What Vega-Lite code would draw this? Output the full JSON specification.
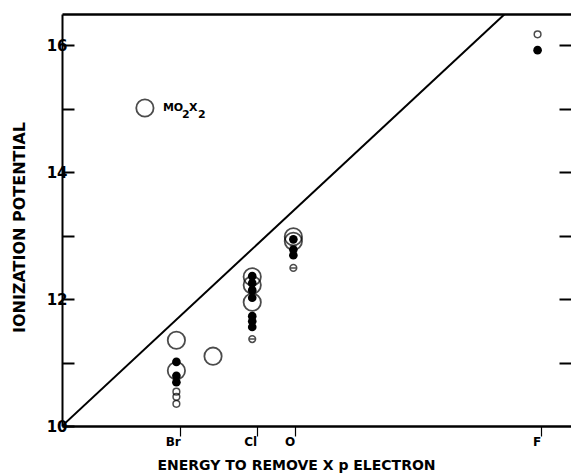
{
  "$schema": "https://vega.github.io/schema/vega-lite/v6.json",
  "width": 509,
  "height": 412,
  "autosize": {"type": "none"},
  "padding": {"left": 62, "top": 14, "right": 0, "bottom": 49},
  "background": "white",
  "config": {
    "view": {"stroke": null},
    "axis": {"domainColor": "black", "tickColor": "black", "labelColor": "black", "titleColor": "black", "grid": false, "labelFlush": false, "labelOverlap": false}
  },
  "datasets": {
    "diag": [{"x": 10, "y": 10}, {"x": 16.89, "y": 16.49}],
    "pts": [
      {"x": 11.29, "y": 15.01, "kind": "legend"},
      {"x": 11.78, "y": 11.35, "kind": "big"},
      {"x": 11.78, "y": 10.87, "kind": "big"},
      {"x": 11.78, "y": 11.01, "kind": "filled"},
      {"x": 11.78, "y": 10.79, "kind": "filled"},
      {"x": 11.78, "y": 10.69, "kind": "filled"},
      {"x": 11.78, "y": 10.54, "kind": "small"},
      {"x": 11.78, "y": 10.46, "kind": "small"},
      {"x": 11.78, "y": 10.35, "kind": "small"},
      {"x": 12.35, "y": 11.10, "kind": "big"},
      {"x": 12.96, "y": 12.35, "kind": "big"},
      {"x": 12.96, "y": 12.22, "kind": "big"},
      {"x": 12.96, "y": 11.95, "kind": "big"},
      {"x": 12.96, "y": 12.36, "kind": "filled"},
      {"x": 12.96, "y": 12.25, "kind": "filled"},
      {"x": 12.96, "y": 12.14, "kind": "filled"},
      {"x": 12.96, "y": 12.02, "kind": "filled"},
      {"x": 12.96, "y": 11.73, "kind": "filled"},
      {"x": 12.96, "y": 11.65, "kind": "filled"},
      {"x": 12.96, "y": 11.56, "kind": "filled"},
      {"x": 12.96, "y": 11.37, "kind": "bar"},
      {"x": 13.60, "y": 12.98, "kind": "big"},
      {"x": 13.60, "y": 12.91, "kind": "big"},
      {"x": 13.60, "y": 12.94, "kind": "filled"},
      {"x": 13.60, "y": 12.78, "kind": "filled"},
      {"x": 13.60, "y": 12.69, "kind": "filled"},
      {"x": 13.60, "y": 12.49, "kind": "bar"},
      {"x": 17.40, "y": 16.17, "kind": "small"},
      {"x": 17.40, "y": 15.92, "kind": "filled"}
    ]
  },
  "layer": [
    {
      "data": {"name": "diag"},
      "mark": {"type": "line", "color": "black", "strokeWidth": 2, "clip": true},
      "encoding": {
        "x": {
          "field": "x", "type": "quantitative",
          "scale": {"domain": [10, 17.92], "nice": false, "zero": false},
          "axis": {
            "orient": "bottom", "values": [11.84, 13.03, 13.62, 17.45],
            "labelExpr": "datum.value < 12 ? 'Br' : datum.value < 13.3 ? 'Cl' : datum.value < 14 ? 'O' : 'F'",
            "domainWidth": 2.5, "tickSize": 10, "tickWidth": 1.2,
            "labelAlign": "right", "labelDx": -3, "labelPadding": 0,
            "labelFont": "DejaVu Sans", "labelFontWeight": "bold", "labelFontSize": 12,
            "title": "ENERGY TO REMOVE X p ELECTRON",
            "titleFont": "DejaVu Sans", "titleFontWeight": "bold", "titleFontSize": 14,
            "titleAnchor": "start", "titleAlign": "left", "titleX": 95, "titleY": 39, "titleBaseline": "middle"
          }
        },
        "y": {
          "field": "y", "type": "quantitative",
          "scale": {"domain": [10, 16.49], "nice": false, "zero": false},
          "axis": {
            "orient": "left", "values": [10, 11, 12, 13, 14, 15, 16],
            "labelExpr": "datum.value % 2 == 0 ? datum.label : ''",
            "tickSize": -12, "tickWidth": 2, "domainWidth": 2, "labelPadding": 7,
            "labelFont": "DejaVu Sans", "labelFontWeight": "bold", "labelFontSize": 15,
            "title": "IONIZATION POTENTIAL",
            "titleFont": "DejaVu Sans", "titleFontWeight": "bold", "titleFontSize": 16,
            "titleAngle": -90, "titleX": -43, "titleY": 213, "titleAlign": "center", "titleBaseline": "middle"
          }
        }
      }
    },
    {
      "data": {"name": "diag"},
      "mark": {"type": "line", "opacity": 0, "clip": true},
      "encoding": {
        "x": {"field": "x", "type": "quantitative", "axis": {"orient": "top", "domainWidth": 2.5, "ticks": false, "labels": false, "title": null}},
        "y": {"field": "y", "type": "quantitative", "axis": {"orient": "right", "domain": false, "values": [11, 12, 13, 14, 15, 16], "tickSize": -12, "tickWidth": 2, "labels": false, "title": null}}
      }
    },
    {
      "data": {"name": "pts"},
      "transform": [{"filter": "datum.kind == 'big' || datum.kind == 'legend'"}],
      "mark": {"type": "point", "shape": "circle", "filled": false, "size": 300, "stroke": "black", "strokeWidth": 1.8},
      "encoding": {
        "x": {"field": "x", "type": "quantitative", "axis": null},
        "y": {"field": "y", "type": "quantitative", "axis": null}
      }
    },
    {
      "data": {"name": "pts"},
      "transform": [{"filter": "datum.kind == 'small'"}],
      "mark": {"type": "point", "shape": "circle", "filled": false, "size": 45, "stroke": "black", "strokeWidth": 1.5},
      "encoding": {
        "x": {"field": "x", "type": "quantitative", "axis": null},
        "y": {"field": "y", "type": "quantitative", "axis": null}
      }
    },
    {
      "data": {"name": "pts"},
      "transform": [{"filter": "datum.kind == 'filled'"}],
      "mark": {"type": "point", "shape": "circle", "filled": true, "size": 75, "color": "black", "opacity": 1},
      "encoding": {
        "x": {"field": "x", "type": "quantitative", "axis": null},
        "y": {"field": "y", "type": "quantitative", "axis": null}
      }
    },
    {
      "data": {"name": "pts"},
      "transform": [{"filter": "datum.kind == 'bar'"}],
      "mark": {"type": "point", "shape": "M-1,0A1,1,0,1,1,1,0A1,1,0,1,1,-1,0ZM-1,0L1,0", "filled": false, "size": 45, "stroke": "black", "strokeWidth": 1.5},
      "encoding": {
        "x": {"field": "x", "type": "quantitative", "axis": null},
        "y": {"field": "y", "type": "quantitative", "axis": null}
      }
    },
    {
      "data": {"name": "pts"},
      "transform": [{"filter": "datum.kind == 'legend'"}],
      "layer": [
        {"mark": {"type": "text", "text": "MO", "align": "left", "baseline": "middle", "dx": 18, "font": "DejaVu Sans", "fontWeight": "bold", "fontSize": 11, "color": "black"}},
        {"mark": {"type": "text", "text": "2", "align": "left", "baseline": "middle", "dx": 37, "dy": 7, "font": "DejaVu Sans", "fontWeight": "bold", "fontSize": 11, "color": "black"}},
        {"mark": {"type": "text", "text": "X", "align": "left", "baseline": "middle", "dx": 44, "font": "DejaVu Sans", "fontWeight": "bold", "fontSize": 11, "color": "black"}},
        {"mark": {"type": "text", "text": "2", "align": "left", "baseline": "middle", "dx": 53, "dy": 7, "font": "DejaVu Sans", "fontWeight": "bold", "fontSize": 11, "color": "black"}}
      ],
      "encoding": {
        "x": {"field": "x", "type": "quantitative", "axis": null},
        "y": {"field": "y", "type": "quantitative", "axis": null}
      }
    }
  ],
  "resolve": {"axis": {"x": "independent", "y": "independent"}}
}
